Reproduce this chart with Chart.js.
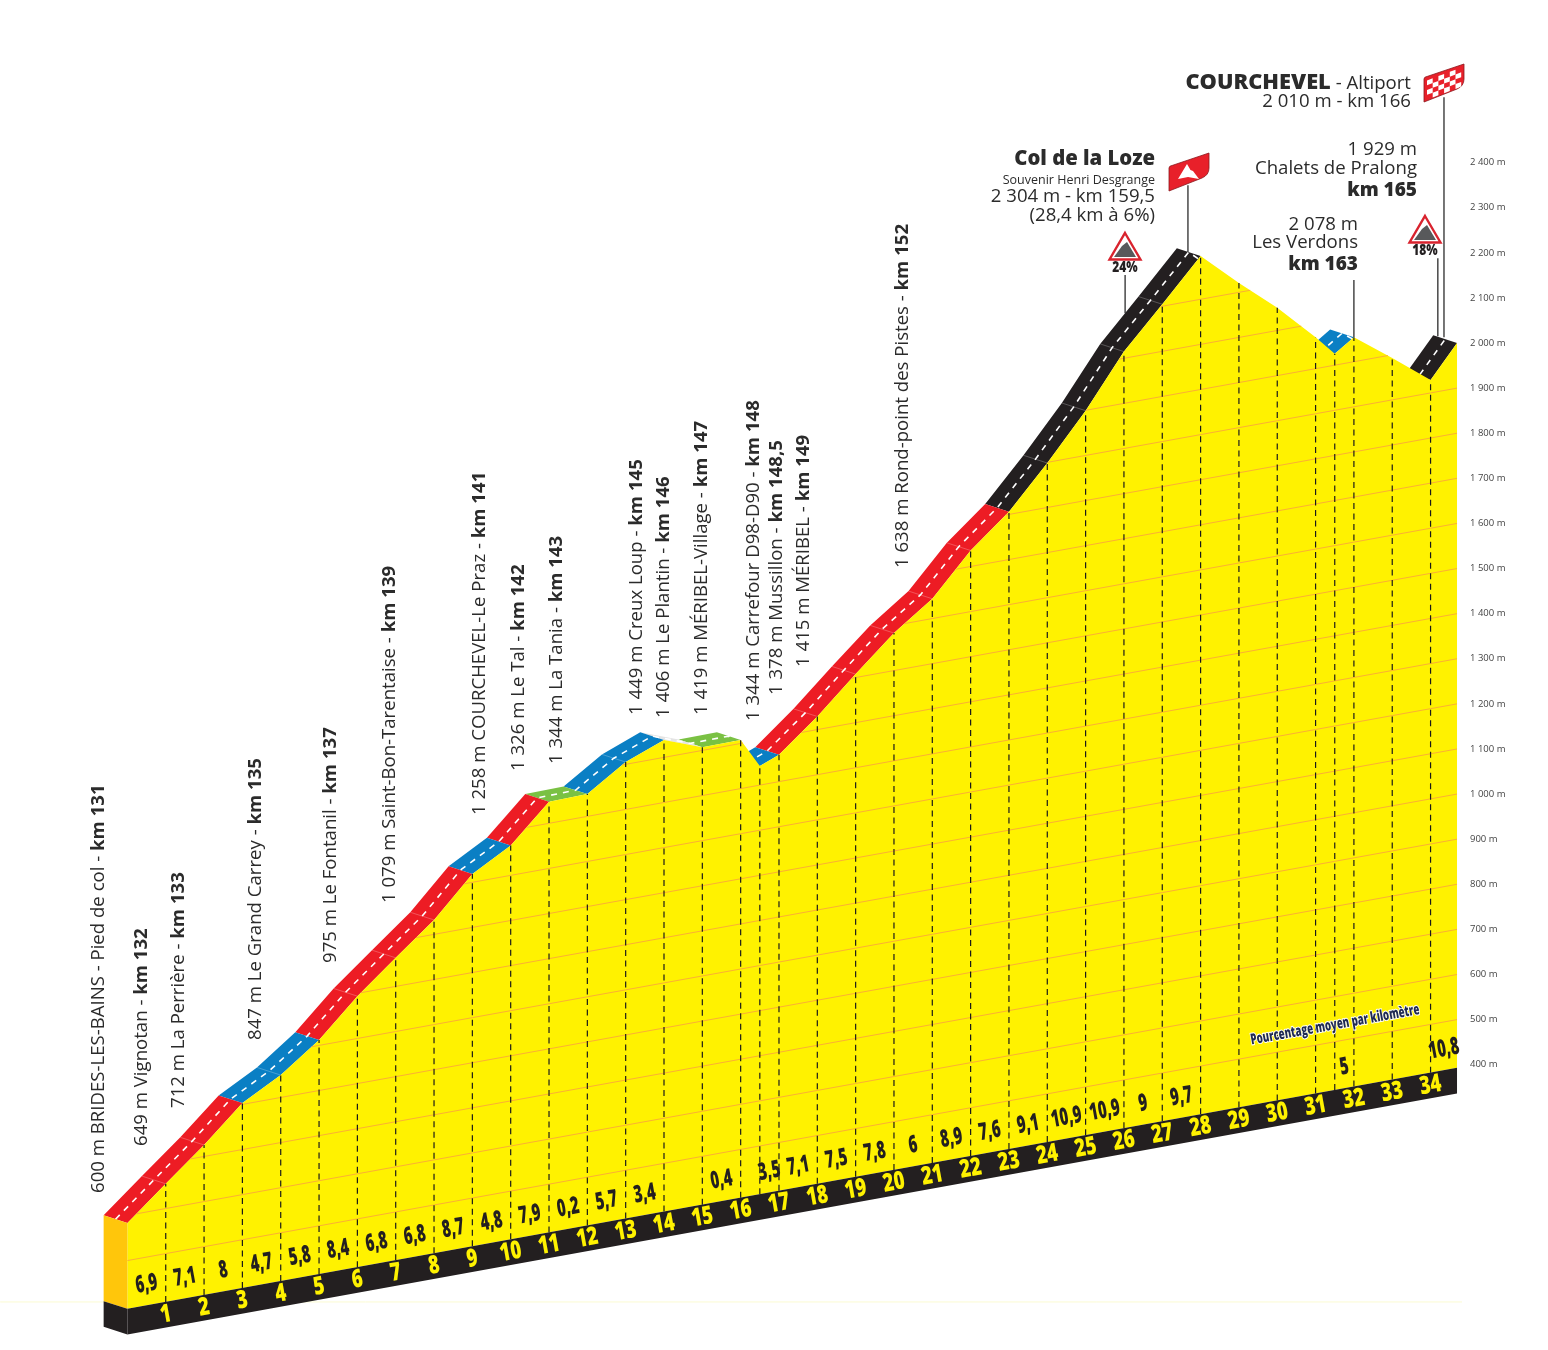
<!DOCTYPE html>
<html lang="fr">
<head>
<meta charset="utf-8">
<title>Courchevel - Col de la Loze</title>
<script src="https://cdn.jsdelivr.net/npm/chart.js@4/dist/chart.umd.js"></script>
<style>
  html, body { margin: 0; padding: 0; background: #fff; }
  canvas { display: block; }
</style>
</head>
<body>
<canvas id="profile" width="1548" height="1350"></canvas>
<script>
// Profile, as read on the right-hand axis at each km line
const stopKm = [0, 1, 2, 3, 4, 5, 6, 7, 8, 9, 10, 11, 12, 13, 14, 15, 16, 16.5, 17, 18, 19, 20, 21, 22, 23, 24, 25, 26, 27, 28, 29, 30, 31, 31.5, 32, 33, 34, 34.69];
const stopAxis = [49, 136, 222, 315, 377, 455, 552, 637, 721, 823, 886, 983, 1000, 1071, 1120, 1104, 1120, 1062, 1087, 1172, 1266, 1357, 1433, 1540, 1626, 1734, 1850, 1981, 2086, 2193, 2133, 2078, 2013, 1976, 2013, 1967, 1918, 2000];

// Road ribbon, by gradient class
const roadFrom = [0, 3, 5, 9, 10, 11, 12, 14, 15, 16.5, 17, 23, 31.5, 34];
const roadTo = [3, 5, 9, 10, 11, 12, 14, 15, 16, 17, 23, 28, 32, 34.69];
const roadClass = ['red', 'blue', 'red', 'blue', 'red', 'green', 'blue', 'flat', 'green', 'blue', 'red', 'black', 'blue', 'black'];

const kmLabels = ['1', '2', '3', '4', '5', '6', '7', '8', '9', '10', '11', '12', '13', '14', '15', '16', '17', '18', '19', '20', '21', '22', '23', '24', '25', '26', '27', '28', '29', '30', '31', '32', '33', '34'];
const slopeKm = [0.5, 1.5, 2.5, 3.5, 4.5, 5.5, 6.5, 7.5, 8.5, 9.5, 10.5, 11.5, 12.5, 13.5, 15.5, 16.75, 17.5, 18.5, 19.5, 20.5, 21.5, 22.5, 23.5, 24.5, 25.5, 26.5, 27.5, 31.75, 34.35];
const slopeText = ['6,9', '7,1', '8', '4,7', '5,8', '8,4', '6,8', '6,8', '8,7', '4,8', '7,9', '0,2', '5,7', '3,4', '0,4', '3,5', '7,1', '7,5', '7,8', '6', '8,9', '7,6', '9,1', '10,9', '10,9', '9', '9,7', '5', '10,8'];

const axisTicks = [400, 500, 600, 700, 800, 900, 1000, 1100, 1200, 1300, 1400, 1500, 1600, 1700, 1800, 1900, 2000, 2100, 2200, 2300, 2400];
const gridLevels = [500, 600, 700, 800, 900, 1000, 1100, 1200, 1300, 1400, 1500, 1600, 1700, 1800, 1900, 2000, 2100, 2200];

const poleKm = [26.03, 27.67, 32, 34.19, 34.35];
const poleFoot = [2066, 2202, 2013, 2015, 2013];
const poleTop = [2151, 2350, 2140, 2188, 2545];

const placeName = ['600 m BRIDES-LES-BAINS - Pied de col - ', '649 m Vignotan - ', '712 m La Perrière - ', '847 m Le Grand Carrey - ', '975 m Le Fontanil - ', '1 079 m Saint-Bon-Tarentaise - ', '1 258 m COURCHEVEL-Le Praz - ', '1 326 m Le Tal - ', '1 344 m La Tania - ', '1 449 m Creux Loup - ', '1 406 m Le Plantin - ', '1 419 m MÉRIBEL-Village - ', '1 344 m Carrefour D98-D90 - ', '1 378 m Mussillon - ', '1 415 m MÉRIBEL - ', '1 638 m Rond-point des Pistes - '];
const placeKm = ['km 131', 'km 132', 'km 133', 'km 135', 'km 137', 'km 139', 'km 141', 'km 142', 'km 143', 'km 145', 'km 146', 'km 147', 'km 148', 'km 148,5', 'km 149', 'km 152'];

// Geometry of the drawing
const END_KM = 34.69;
const SKEW = 15.4;          // axis metres per km of the slanted base
const BASE_TOP = 393;
const BASE_BOTTOM = 336;
const BACK_KM = 0.62;       // ribbon depth
const BACK_M = 17;

const COLORS = { red: '#ed1c24', blue: '#0a7fc4', green: '#7ac143', black: '#231f20', flat: '#e4e4e4' };
const DARK = '#231f20';
const YELLOW = '#fff200';
const TEXT = '#2b2b2b';
const ROTATE = -10.3 * Math.PI / 180;

const baseTop = km => BASE_TOP - SKEW * (END_KM - km);
const baseBottom = km => BASE_BOTTOM - SKEW * (END_KM - km);

function profileAt(km) {
  for (let i = 1; i < stopKm.length; i++) {
    if (km <= stopKm[i]) {
      const t = (km - stopKm[i - 1]) / (stopKm[i] - stopKm[i - 1]);
      return stopAxis[i - 1] + t * (stopAxis[i] - stopAxis[i - 1]);
    }
  }
  return stopAxis[stopAxis.length - 1];
}

const front = stopKm.map((km, i) => ({ x: km, y: stopAxis[i] }));

function shape(points, color, order) {
  return { data: points, showLine: true, fill: 'shape', backgroundColor: color, borderWidth: 0, pointRadius: 0, order };
}
function line(points, color, width, order, dash) {
  return { data: points, showLine: true, fill: false, borderColor: color, borderWidth: width, borderDash: dash || [], pointRadius: 0, spanGaps: false, order };
}

// One polygon per road section, front edge then back edge
function roadDatasets() {
  return roadFrom.map((from, i) => {
    const part = front.filter(p => p.x >= from && p.x <= roadTo[i]);
    const back = part.map(p => ({ x: p.x - BACK_KM, y: p.y + BACK_M })).reverse();
    return shape(part.concat(back), COLORS[roadClass[i]], 20);
  });
}

// Orange level lines stop where they leave the yellow
function gridDatasets() {
  return gridLevels.map(level => {
    const pts = [];
    const y = km => level - SKEW * (END_KM - km);
    let inside = false;
    for (let i = 0; i < stopKm.length - 1; i++) {
      const a = stopKm[i], b = stopKm[i + 1];
      const da = stopAxis[i] - y(a), db = stopAxis[i + 1] - y(b);
      if (da >= 0 && !inside) { pts.push({ x: a, y: y(a) }); inside = true; }
      if ((da >= 0) !== (db >= 0)) {
        const km = a + (b - a) * da / (da - db);
        pts.push({ x: km, y: y(km) });
        if (inside) pts.push({ x: km, y: null });
        inside = db >= 0;
      } else if (db >= 0) {
        pts.push({ x: b, y: y(b) });
      }
    }
    return line(pts, '#fbb034', 1, 14);
  });
}

function kmLines() {
  const pts = [];
  stopKm.filter(km => km > 0 && km < END_KM).forEach(km => {
    pts.push({ x: km, y: baseTop(km) }, { x: km, y: profileAt(km) }, { x: km, y: null });
  });
  return line(pts, '#1a1a1a', 1.2, 12, [6, 4.5]);
}

function roadCrossLines() {
  const pts = [];
  roadFrom.forEach((from, i) => {
    stopKm.filter(km => km > from && km < roadTo[i]).forEach(km => {
      const alt = profileAt(km);
      pts.push({ x: km, y: alt }, { x: km - BACK_KM, y: alt + BACK_M }, { x: km, y: null });
    });
  });
  return line(pts, 'rgba(255,255,255,0.35)', 0.7, 19);
}

const datasets = [
  line([{ x: -3.32, y: -126 }, { x: 34.82, y: -126 }], '#fbfbd2', 1, 30),
  ...roadDatasets(),
  roadCrossLines(),
  line(front.map(p => ({ x: p.x - BACK_KM / 2, y: p.y + BACK_M / 2 })), '#ffffff', 1.6, 18, [6, 6]),
  shape(front.concat([{ x: END_KM, y: baseTop(END_KM) }, { x: 0, y: baseTop(0) }]), YELLOW, 16),
  ...gridDatasets(),
  kmLines(),
  shape([{ x: 0, y: stopAxis[0] }, { x: -BACK_KM, y: stopAxis[0] + BACK_M }, { x: -BACK_KM, y: baseTop(0) + BACK_M }, { x: 0, y: baseTop(0) }], '#ffc60b', 10),
  shape([{ x: 0, y: baseTop(0) }, { x: -BACK_KM, y: baseTop(0) + BACK_M }, { x: -BACK_KM, y: baseBottom(0) + BACK_M }, { x: 0, y: baseBottom(0) }], DARK, 9),
  shape([{ x: 0, y: baseTop(0) }, { x: END_KM, y: baseTop(END_KM) }, { x: END_KM, y: baseBottom(END_KM) }, { x: 0, y: baseBottom(0) }], DARK, 8),
  ...poleKm.map((km, i) => line([{ x: km, y: poleFoot[i] }, { x: km, y: poleTop[i] }], '#1a1a1a', 1.2, 25)),
];

// Bold + regular runs right-aligned on one baseline
function rightText(ctx, right, base, runs) {
  let x = right;
  ctx.textAlign = 'left';
  ctx.textBaseline = 'alphabetic';
  runs.slice().reverse().forEach(([text, font]) => {
    ctx.font = font;
    x -= ctx.measureText(text).width;
    ctx.fillText(text, x, base);
  });
}

function slantText(ctx, text, x, y, font, color, squeeze) {
  ctx.save();
  ctx.translate(x, y);
  ctx.rotate(ROTATE);
  ctx.scale(squeeze, 1);
  ctx.font = font;
  ctx.textAlign = 'center';
  ctx.textBaseline = 'middle';
  ctx.fillStyle = color;
  ctx.fillText(text, 0, 0);
  ctx.restore();
}

function warningSign(ctx, cx, top, label) {
  ctx.save();
  ctx.lineJoin = 'miter';
  ctx.beginPath();
  ctx.moveTo(cx, top); ctx.lineTo(cx + 15.5, top + 26.5); ctx.lineTo(cx - 15.5, top + 26.5); ctx.closePath();
  ctx.fillStyle = '#fff'; ctx.fill();
  ctx.strokeStyle = '#d9232e'; ctx.lineWidth = 2.4; ctx.stroke();
  ctx.beginPath();
  ctx.moveTo(cx - 11, top + 24); ctx.lineTo(cx - 3, top + 13); ctx.lineTo(cx + 2, top + 9); ctx.lineTo(cx + 11, top + 24); ctx.closePath();
  ctx.fillStyle = '#58595b'; ctx.fill();
  ctx.restore();
  ctx.save();
  ctx.translate(cx, top + 35);
  ctx.scale(0.8, 1);
  ctx.font = '800 15px "Open Sans"';
  ctx.textAlign = 'center';
  ctx.textBaseline = 'middle';
  ctx.fillStyle = DARK;
  ctx.fillText(label, 0, 0);
  ctx.restore();
}

function flagPath(ctx, x, y) {
  ctx.beginPath();
  ctx.moveTo(x, y + 15);
  ctx.quadraticCurveTo(x, y + 13, x + 3, y + 12.5);
  ctx.lineTo(x + 40, y);
  ctx.lineTo(x + 40, y + 15);
  ctx.quadraticCurveTo(x + 40, y + 22, x + 33, y + 25);
  ctx.lineTo(x, y + 38);
  ctx.closePath();
}

const labelsPlugin = {
  id: 'labels',
  afterDatasetsDraw(chart) {
    const { ctx, scales: { x, y } } = chart;
    ctx.save();

    // km numbers and average slopes along the base
    kmLabels.forEach((label, i) => {
      const km = i + 1;
      const mid = (baseTop(km) + baseBottom(km)) / 2;
      slantText(ctx, label, x.getPixelForValue(km), y.getPixelForValue(mid), '800 25px "Open Sans"', YELLOW, 0.74);
    });
    slopeText.forEach((label, i) => {
      const km = slopeKm[i];
      slantText(ctx, label, x.getPixelForValue(km), y.getPixelForValue(baseTop(km)) - 21, '800 24px "Open Sans"', DARK, 0.62);
    });

    ctx.save();
    ctx.translate(1335, 1025);
    ctx.rotate(ROTATE);
    ctx.scale(0.645, 1);
    ctx.font = '800 15px "Open Sans"';
    ctx.textAlign = 'center';
    ctx.textBaseline = 'middle';
    ctx.strokeStyle = '#fff';
    ctx.lineWidth = 2;
    ctx.strokeText('Pourcentage moyen par kilomètre', 0, 0);
    ctx.fillStyle = '#1f2a52';
    ctx.fillText('Pourcentage moyen par kilomètre', 0, 0);
    ctx.restore();

    // vertical place names: [centre x, bottom y]
    const anchors = [[99, 1193], [142, 1146], [179, 1108], [256, 1040], [331, 963], [390, 903], [480, 815], [519, 771], [557, 764], [637, 715], [664, 718], [702, 715], [754, 721], [777, 695], [804, 667], [903, 568]];
    ctx.fillStyle = TEXT;
    placeName.forEach((name, i) => {
      ctx.save();
      ctx.translate(anchors[i][0], anchors[i][1]);
      ctx.rotate(-Math.PI / 2);
      ctx.textAlign = 'left';
      ctx.textBaseline = 'middle';
      ctx.font = '18.6px "Open Sans"';
      ctx.fillText(name, 0, 0);
      const w = ctx.measureText(name).width;
      ctx.font = '700 18.6px "Open Sans"';
      ctx.fillText(placeKm[i], w, 0);
      ctx.restore();
    });

    // top right labels
    const reg = '18.6px "Open Sans"';
    rightText(ctx, 1411, 89, [['COURCHEVEL', '800 21.8px "Open Sans"'], [' - Altiport', reg]]);
    rightText(ctx, 1411, 107, [['2 010 m - km 166', reg]]);
    rightText(ctx, 1417, 155, [['1 929 m', reg]]);
    rightText(ctx, 1417, 174, [['Chalets de Pralong', reg]]);
    rightText(ctx, 1417, 196, [['km 165', '800 19px "Open Sans"']]);
    rightText(ctx, 1358, 230, [['2 078 m', reg]]);
    rightText(ctx, 1358, 248, [['Les Verdons', reg]]);
    rightText(ctx, 1358, 270, [['km 163', '800 19px "Open Sans"']]);
    rightText(ctx, 1155, 165, [['Col de la Loze', '800 20.3px "Open Sans"']]);
    rightText(ctx, 1155, 184, [['Souvenir Henri Desgrange', '12.5px "Open Sans"']]);
    rightText(ctx, 1155, 202, [['2 304 m - km 159,5', reg]]);
    rightText(ctx, 1155, 221, [['(28,4 km à 6%)', reg]]);

    warningSign(ctx, 1125, 233, '24%');
    warningSign(ctx, 1425, 216, '18%');

    // col flag
    flagPath(ctx, 1169, 153);
    ctx.fillStyle = '#e8202a'; ctx.fill();
    ctx.strokeStyle = '#8a1a1f'; ctx.lineWidth = 0.8; ctx.stroke();
    ctx.beginPath();
    ctx.moveTo(1178, 179); ctx.lineTo(1184, 169); ctx.lineTo(1187, 164); ctx.lineTo(1190.5, 170); ctx.lineTo(1193, 171); ctx.lineTo(1199, 179); ctx.lineTo(1188, 177); ctx.closePath();
    ctx.fillStyle = '#fff'; ctx.fill();

    // finish flag
    flagPath(ctx, 1424, 64);
    ctx.fillStyle = '#e8202a'; ctx.fill();
    ctx.strokeStyle = '#8a1a1f'; ctx.lineWidth = 0.8; ctx.stroke();
    ctx.save();
    ctx.clip();
    ctx.transform(1, -0.375, 0, 1, 1424, 79);
    for (let r = 0; r < 4; r++) {
      for (let c = 0; c < 6; c++) {
        if ((r + c) % 2 === 0) {
          ctx.fillStyle = '#fff';
          ctx.fillRect(3 + c * 5.7, 2.5 + r * 4.8, 5.7, 4.8);
        }
      }
    }
    ctx.restore();
    ctx.restore();
  },
};

new Chart(document.getElementById('profile'), {
  type: 'scatter',
  data: { datasets },
  plugins: [labelsPlugin],
  options: {
    responsive: false,
    animation: false,
    events: [],
    layout: { padding: 0 },
    plugins: { legend: { display: false }, tooltip: { enabled: false } },
    elements: { line: { tension: 0 } },
    scales: {
      x: { type: 'linear', display: false, min: -3.324, max: 34.82 },
      y: {
        type: 'linear',
        position: 'right',
        min: -232.5,
        max: 2760.5,
        grid: { display: false },
        border: { display: false },
        afterFit(scale) { scale.width = 86; scale.paddingTop = 0; scale.paddingBottom = 0; },
        afterBuildTicks(scale) { scale.ticks = axisTicks.map(value => ({ value })); },
        ticks: {
          padding: 0,
          color: '#444444',
          font: { family: '"Open Sans"', size: 9.5 },
          autoSkip: false,
          callback: v => (v >= 1000 ? `${Math.floor(v / 1000)} ${String(v % 1000).padStart(3, '0')} m` : `${v} m`),
        },
      },
    },
  },
});
</script>
</body>
</html>
